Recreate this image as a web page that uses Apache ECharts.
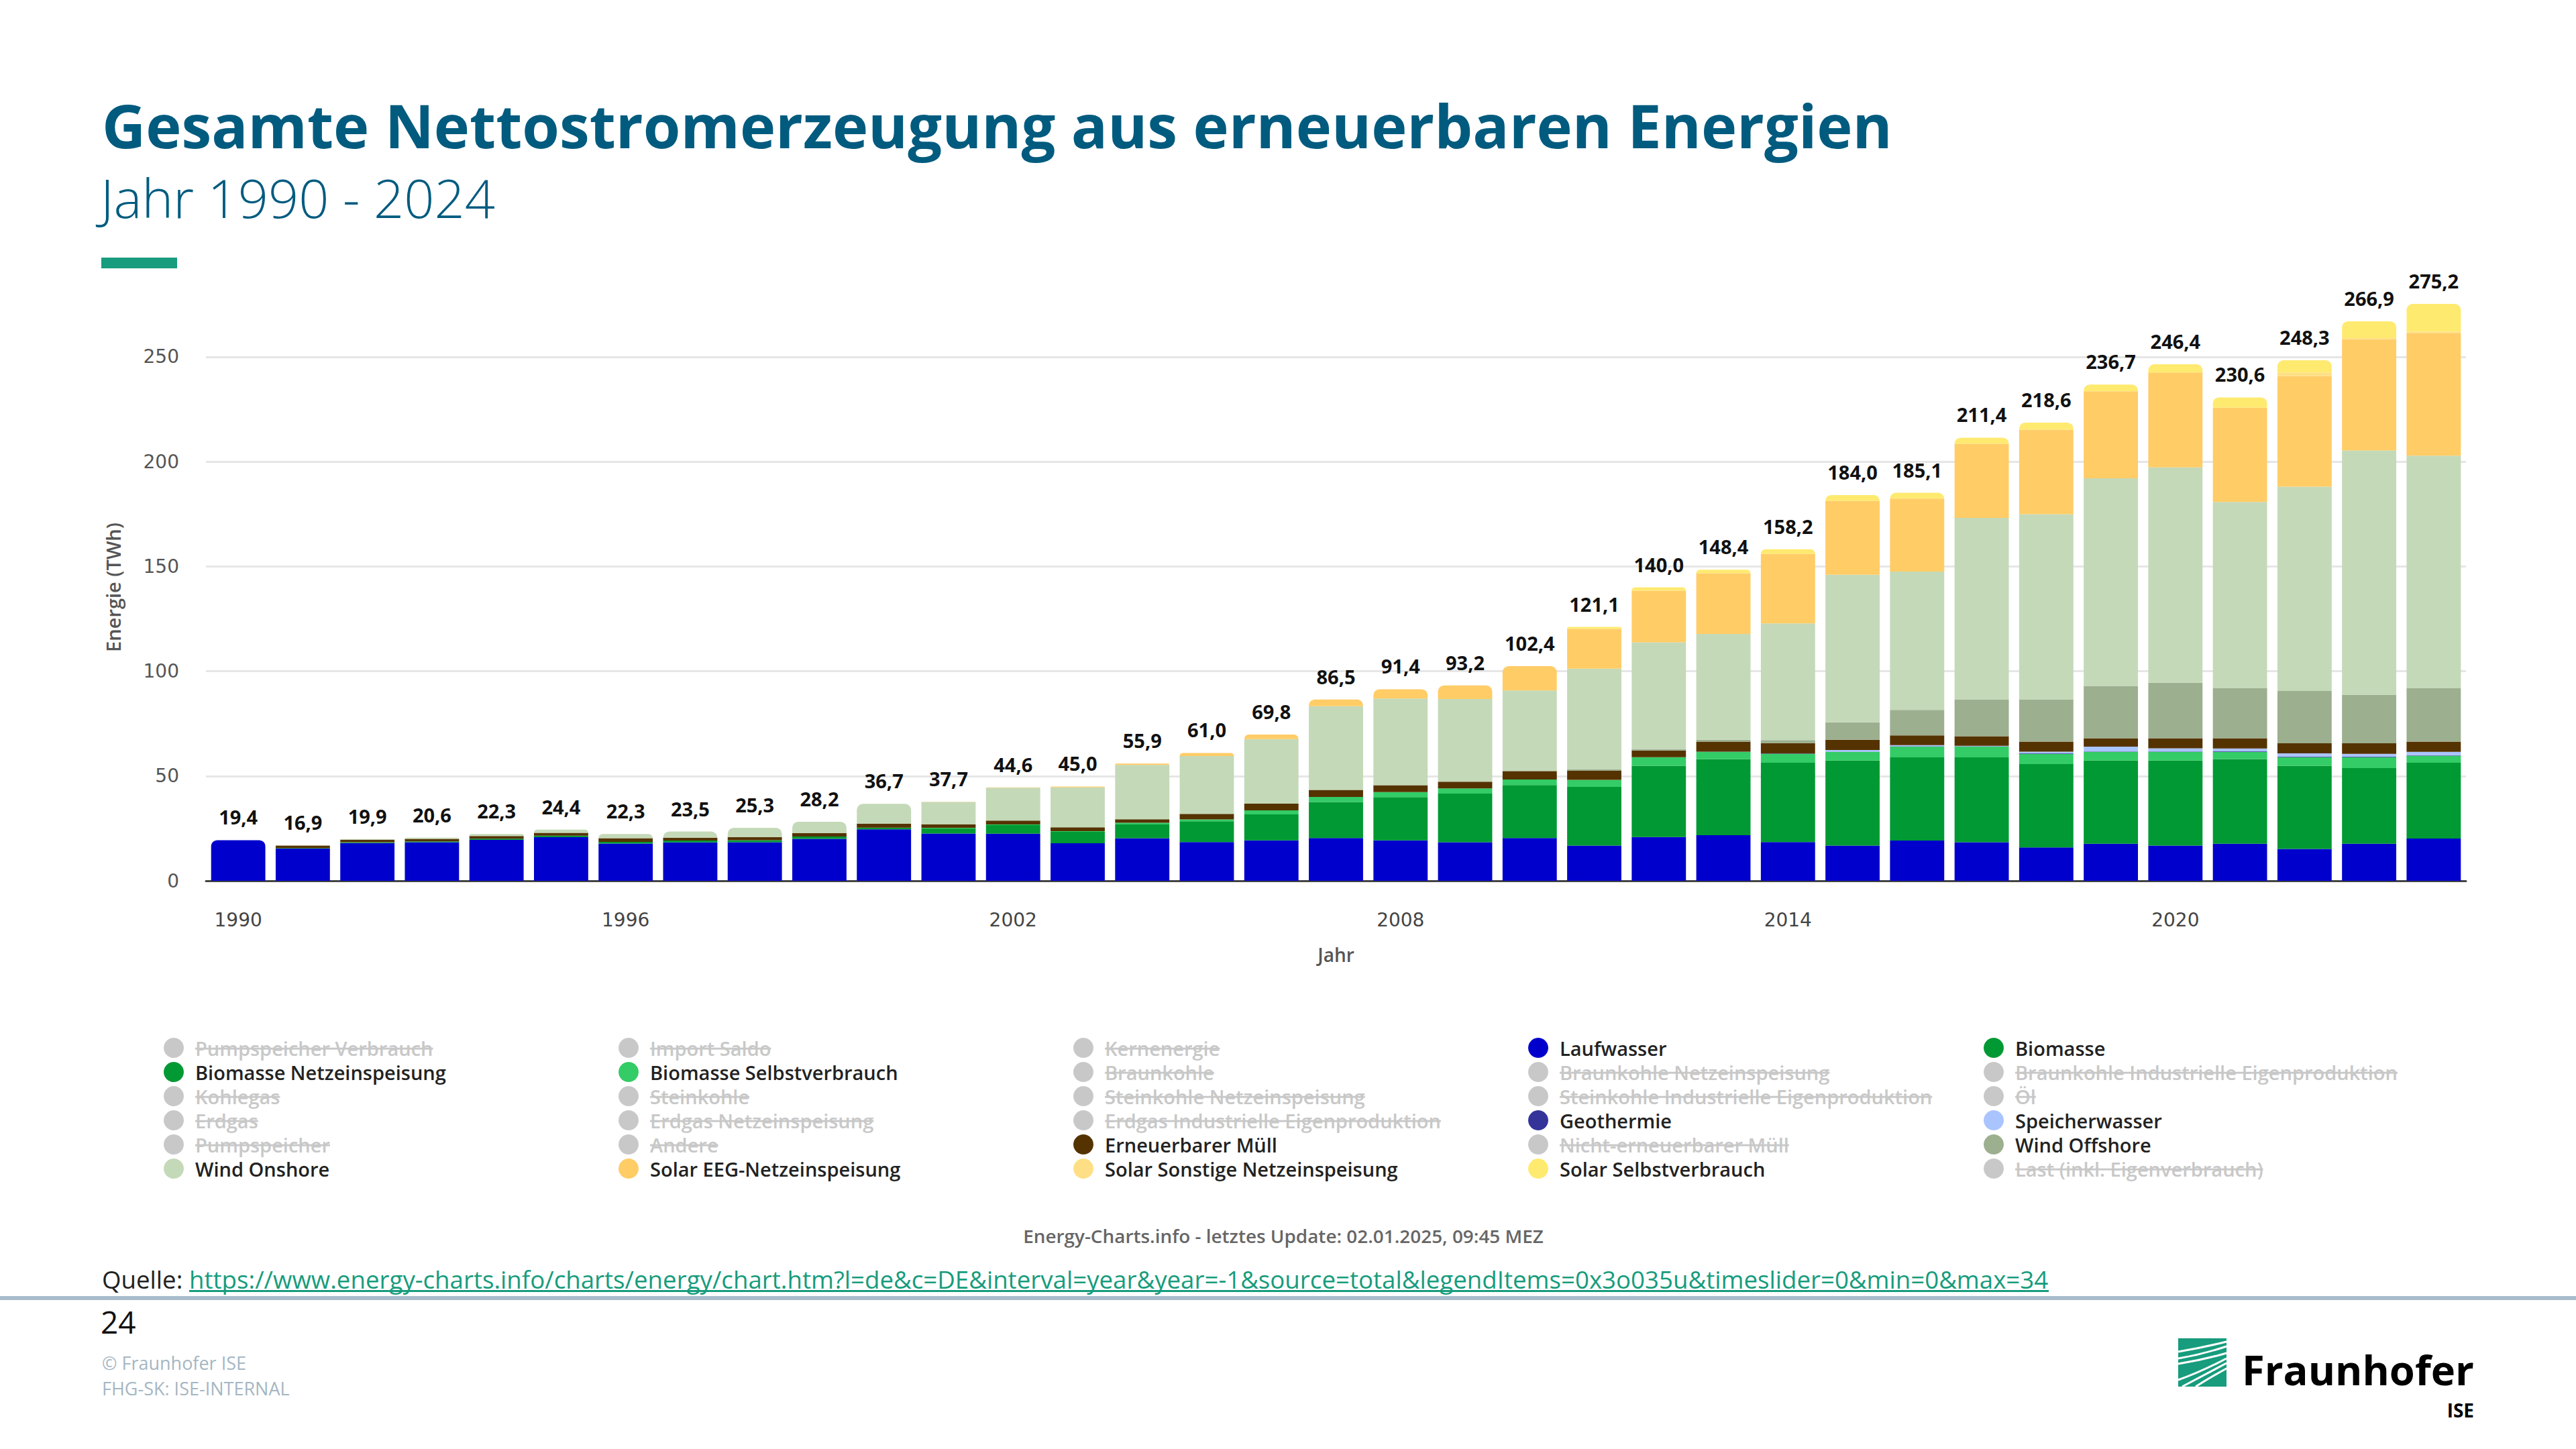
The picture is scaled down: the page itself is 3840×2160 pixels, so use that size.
<!DOCTYPE html>
<html><head><meta charset="utf-8">
<script src="https://cdn.jsdelivr.net/npm/echarts@6/dist/echarts.min.js"></script>
<style>html,body{margin:0;padding:0;background:#fff}#c{width:3840px;height:2160px}</style>
</head><body><div id="c"></div>
<script>
// ---------- DATA ----------
const years = ['1990','1991','1992','1993','1994','1995','1996','1997','1998','1999','2000','2001','2002','2003','2004','2005','2006','2007','2008','2009','2010','2011','2012','2013','2014','2015','2016','2017','2018','2019','2020','2021','2022','2023','2024'];
const totals = [19.4,16.9,19.9,20.6,22.3,24.4,22.3,23.5,25.3,28.2,36.7,37.7,44.6,45.0,55.9,61.0,69.8,86.5,91.4,93.2,102.4,121.1,140.0,148.4,158.2,184.0,185.1,211.4,218.6,236.7,246.4,230.6,248.3,266.9,275.2];
const laufwasser = [19.4,15.4,18.0,18.4,19.5,20.8,17.8,18.3,18.4,20.0,24.6,22.6,22.5,17.9,20.3,18.5,19.3,20.4,19.3,18.4,20.4,16.8,20.9,21.8,18.5,16.8,19.2,18.4,15.9,17.7,16.8,17.7,15.2,17.7,20.2];
const biomasse = [0,0.2,0.4,0.4,0.6,0.7,0.8,0.9,1.0,1.1,0.8,2.5,4.1,5.5,6.6,9.9,12.4,17.2,20.6,23.2,25.3,28.0,34.0,36.2,37.8,40.6,39.7,40.5,39.8,39.7,40.6,40.4,39.7,36.1,36.1];
const biomasseSelbstverbrauch = [0,0,0,0,0,0,0,0,0,0,0,0.2,0.3,0.3,0.8,0.9,1.9,2.4,2.4,2.5,2.6,3.4,4.1,3.5,4.3,4.1,5.1,5.1,4.9,4.1,4.1,3.4,4.1,5.2,3.4];
const geothermie = [0,0,0,0,0,0,0,0,0,0,0,0,0,0,0,0,0,0,0,0,0,0,0,0.1,0.1,0.1,0.2,0.2,0.2,0.2,0.2,0.3,0.3,0.2,0.2];
const speicherwasser = [0,0,0,0,0,0,0,0,0,0,0,0,0,0,0,0,0,0,0,0,0,0,0,0,0,0.8,0.5,0.2,0.8,2.3,1.5,1.3,1.5,1.4,1.6];
const erneuerbarerMuell = [0,1.2,1.2,1.2,1.3,1.4,1.7,1.4,1.4,1.6,1.8,1.7,1.8,1.8,1.7,2.6,3.2,3.4,3.3,3.2,4.0,4.3,3.2,4.8,5.0,4.9,4.7,4.6,4.8,4.0,4.8,4.9,4.8,5.0,4.9];
const windOffshore = [0,0,0,0,0,0,0,0,0,0,0,0,0,0,0,0,0,0,0,0,0.2,0.6,0.7,0.9,1.4,8.3,12.1,17.6,20.2,25.0,26.5,24.0,25.0,23.1,25.6];
const windOnshore = [0,0.1,0.3,0.6,0.9,1.5,2.0,2.9,4.5,5.5,9.5,10.6,15.7,19.1,25.9,27.6,30.8,39.9,41.4,39.4,38.3,48.1,50.9,50.5,55.7,70.4,66.0,86.5,88.3,99.0,102.7,88.7,97.4,116.6,110.8];
const solarEEG = [0,0,0,0,0,0,0,0,0,0,0,0.1,0.2,0.4,0.6,1.5,2.2,3.2,4.4,6.5,11.6,19.0,24.6,28.9,33.2,35.3,34.8,35.4,40.3,41.5,45.3,45.0,52.7,53.0,58.6];
const solarSonstige = [0,0,0,0,0,0,0,0,0,0,0,0,0,0,0,0,0,0,0,0,0,0,0,0,0,0,0,0,0,0,0,0,1.8,0.6,0.5];
const solarSelbstverbrauch = [0,0,0,0,0,0,0,0,0,0,0,0,0,0,0,0,0,0,0,0,0,0.9,1.6,1.7,2.2,2.7,2.8,2.9,3.4,3.2,3.9,4.9,5.8,8.0,13.3];
const yTicks = [0,50,100,150,200,250];

const legendItems = [
 'Pumpspeicher Verbrauch','Import Saldo','Kernenergie','Laufwasser','Biomasse',
 'Biomasse Netzeinspeisung','Biomasse Selbstverbrauch','Braunkohle','Braunkohle Netzeinspeisung','Braunkohle Industrielle Eigenproduktion',
 'Kohlegas','Steinkohle','Steinkohle Netzeinspeisung','Steinkohle Industrielle Eigenproduktion','Öl',
 'Erdgas','Erdgas Netzeinspeisung','Erdgas Industrielle Eigenproduktion','Geothermie','Speicherwasser',
 'Pumpspeicher','Andere','Erneuerbarer Müll','Nicht-erneuerbarer Müll','Wind Offshore',
 'Wind Onshore','Solar EEG-Netzeinspeisung','Solar Sonstige Netzeinspeisung','Solar Selbstverbrauch','Last (inkl. Eigenverbrauch)'];

// ---------- STYLE / BUILD ----------
const colors = {
 'Laufwasser':'#0000cc','Biomasse':'#009933','Biomasse Netzeinspeisung':'#009933','Biomasse Selbstverbrauch':'#33cc66',
 'Geothermie':'#333399','Speicherwasser':'#aac4ff','Erneuerbarer Müll':'#553300','Wind Offshore':'#9caf8f',
 'Wind Onshore':'#c4d9b8','Solar EEG-Netzeinspeisung':'#ffcc66','Solar Sonstige Netzeinspeisung':'#ffdf85','Solar Selbstverbrauch':'#ffea70'
};
const stackSeries = [
 ['Laufwasser', laufwasser], ['Biomasse', biomasse], ['Biomasse Netzeinspeisung', null],
 ['Biomasse Selbstverbrauch', biomasseSelbstverbrauch], ['Geothermie', geothermie], ['Speicherwasser', speicherwasser],
 ['Erneuerbarer Müll', erneuerbarerMuell], ['Wind Offshore', windOffshore], ['Wind Onshore', windOnshore],
 ['Solar EEG-Netzeinspeisung', solarEEG], ['Solar Sonstige Netzeinspeisung', solarSonstige], ['Solar Selbstverbrauch', solarSelbstverbrauch]
];
const activeNames = stackSeries.map(s => s[0]);
const inactiveNames = legendItems.filter(n => !activeNames.includes(n));
const FONT = '"Open Sans", "Noto Sans", sans-serif';
const R = 9;

const topIdx = years.map((_, i) => {
  let t = -1;
  stackSeries.forEach((s, k) => { if (s[1] && s[1][i] > 0) t = k; });
  return t;
});

const series = [];
stackSeries.forEach((s, k) => {
  series.push({
    name: s[0], type: 'bar', stack: 'total', barCategoryGap: '16%',
    itemStyle: { color: colors[s[0]] },
    data: s[1] ? s[1].map((v, i) => topIdx[i] === k ? { value: v, itemStyle: { borderRadius: [R, R, 0, 0] } } : v) : []
  });
});
series.push({
  name: 'Summe', type: 'bar', stack: 'total', barCategoryGap: '16%',
  itemStyle: { color: 'rgba(0,0,0,0)' },
  data: years.map(() => 0),
  label: { show: true, position: 'top', distance: 20, color: '#111', fontFamily: FONT, fontWeight: 700, fontSize: 29,
    formatter: p => totals[p.dataIndex].toFixed(1).replace('.', ',') }
});
inactiveNames.forEach(n => series.push({ name: n, type: 'bar', data: [], itemStyle: { color: '#cccccc' } }));

const selected = {};
inactiveNames.forEach(n => { selected[n] = false; });

const colCenters = [266, 944, 1622, 2300, 2979];
const ICON_W = 54, LEG_TOP = 1539, ROW_H = 36, LEG_FS = 29;
const legends = colCenters.map((cx, c) => ({
  orient: 'vertical', left: cx - ICON_W / 2, top: LEG_TOP, itemWidth: ICON_W, itemHeight: 30, itemGap: 0,
  icon: 'circle', inactiveColor: '#c8c8c8', selectedMode: false, selected: selected,
  textStyle: { fontFamily: FONT, fontWeight: 600, fontSize: LEG_FS, lineHeight: ROW_H, color: '#222' },
  data: legendItems.filter((_, i) => i % 5 === c)
}));

const mctx = document.createElement('canvas').getContext('2d');
function textW(text, font) { mctx.font = font; return mctx.measureText(text).width; }
function fit(text, weight, target) { return 100 * target / textW(text, `${weight} 100px ${FONT}`); }

const graphics = [];
const titleText = 'Gesamte Nettostromerzeugung aus erneuerbaren Energien';
const subText = 'Jahr 1990 - 2024';
const urlText = 'https://www.energy-charts.info/charts/energy/chart.htm?l=de&c=DE&interval=year&year=-1&source=total&legendItems=0x3o035u&timeslider=0&min=0&max=34';
const titleSize = fit(titleText, 700, 2669);
const subSize = fit(subText, 300, 588);
const urlSize = fit(urlText, 400, 2772);
const updText = 'Energy-Charts.info - letztes Update: 02.01.2025, 09:45 MEZ';
const updSize = fit(updText, 600, 776);
const logoSize = fit('Fraunhofer', 700, 346);

graphics.push(
  { type: 'text', x: 152, y: 186, style: { text: titleText, font: `700 ${titleSize}px ${FONT}`, fill: '#005b7f', verticalAlign: 'middle' } },
  { type: 'text', x: 150, y: 294, style: { text: subText, font: `300 ${subSize}px ${FONT}`, fill: '#005b7f', verticalAlign: 'middle' } },
  { type: 'rect', shape: { x: 151, y: 384, width: 113, height: 16 }, style: { fill: '#179c7d' } },
  { type: 'text', x: 1913, y: 1842, style: { text: updText, font: `600 ${updSize}px ${FONT}`, fill: '#666', align: 'center', verticalAlign: 'middle' } },
  { type: 'text', x: 152, y: 1907, style: { text: 'Quelle:', font: `400 ${urlSize}px ${FONT}`, fill: '#222', verticalAlign: 'middle' } },
  { type: 'text', x: 282, y: 1907, style: { text: urlText, font: `400 ${urlSize}px ${FONT}`, fill: '#179c7d', verticalAlign: 'middle' } },
  { type: 'rect', shape: { x: 282, y: 1923, width: 2772, height: 3 }, style: { fill: '#179c7d' } },
  { type: 'rect', shape: { x: 0, y: 1932, width: 3840, height: 6 }, style: { fill: '#a9bccb' } },
  { type: 'text', x: 150, y: 1970, style: { text: '24', font: `400 46px ${FONT}`, fill: '#111', verticalAlign: 'middle' } },
  { type: 'text', x: 152, y: 2031, style: { text: '© Fraunhofer ISE', font: `400 27px ${FONT}`, fill: '#a5b6c3', verticalAlign: 'middle' } },
  { type: 'text', x: 152, y: 2069, style: { text: 'FHG-SK: ISE-INTERNAL', font: `400 27px ${FONT}`, fill: '#a5b6c3', verticalAlign: 'middle' } },
  { type: 'rect', shape: { x: 3247, y: 1995, width: 72, height: 72 }, style: { fill: '#179c7d' } },
  { type: 'text', x: 3342, y: 2041, style: { text: 'Fraunhofer', font: `700 ${logoSize}px ${FONT}`, fill: '#000', verticalAlign: 'middle' } },
  { type: 'text', x: 3688, y: 2102, style: { text: 'ISE', font: `700 28px ${FONT}`, fill: '#000', align: 'right', verticalAlign: 'middle' } }
);
const curves = [[0,20,72,5,36,14],[0,30,72,12,36,24],[0,38,72,22,38,32],[0,62,72,30,34,50],[6,72,72,37,36,56],[26,72,72,45,48,58]];
curves.forEach(c => graphics.push({ type: 'bezierCurve', shape: { x1: 3247 + c[0], y1: 1995 + c[1], x2: 3247 + c[2], y2: 1995 + c[3], cpx1: 3247 + c[4], cpy1: 1995 + c[5] }, style: { stroke: '#fff', lineWidth: 3, fill: null } }));

const chart = echarts.init(document.getElementById('c'), null, { renderer: 'svg', width: 3840, height: 2160 });

// strike-through for deactivated legend entries (applied to the real legend text)
function strikeInactive() {
  document.querySelectorAll('#c svg text').forEach(t => {
    if (inactiveNames.includes(t.textContent.trim())) {
      t.style.textDecoration = 'line-through';
      t.setAttribute('text-decoration', 'line-through');
    }
  });
}
chart.on('finished', strikeInactive);

chart.setOption({
  animation: false,
  backgroundColor: '#fff',
  grid: { left: 307, right: 164, top: 438, bottom: 847, containLabel: false },
  xAxis: {
    type: 'category', data: years,
    axisLine: { lineStyle: { color: '#444', width: 3 } },
    axisTick: { show: false },
    axisLabel: { interval: 5, margin: 44, color: '#444', fontFamily: 'DejaVu Sans', fontSize: 28 },
    name: 'Jahr', nameLocation: 'middle', nameGap: 96,
    nameTextStyle: { color: '#555', fontFamily: FONT, fontWeight: 600, fontSize: 28 }
  },
  yAxis: {
    type: 'value', min: 0, max: 280, interval: 50,
    axisLine: { show: false }, axisTick: { show: false },
    axisLabel: { margin: 40, color: '#555', fontFamily: 'DejaVu Sans', fontSize: 28, showMaxLabel: false },
    splitLine: { lineStyle: { color: '#e6e6e6', width: 3 }, showMaxLine: false, showMinLine: false },
    name: 'Energie (TWh)', nameLocation: 'middle', nameRotate: 90, nameGap: 124,
    nameTextStyle: { color: '#555', fontFamily: FONT, fontWeight: 600, fontSize: 29 }
  },
  legend: legends,
  series: series,
  graphic: { elements: graphics }
});
strikeInactive();
setTimeout(strikeInactive, 50);
setTimeout(strikeInactive, 300);
</script>
</body></html>
